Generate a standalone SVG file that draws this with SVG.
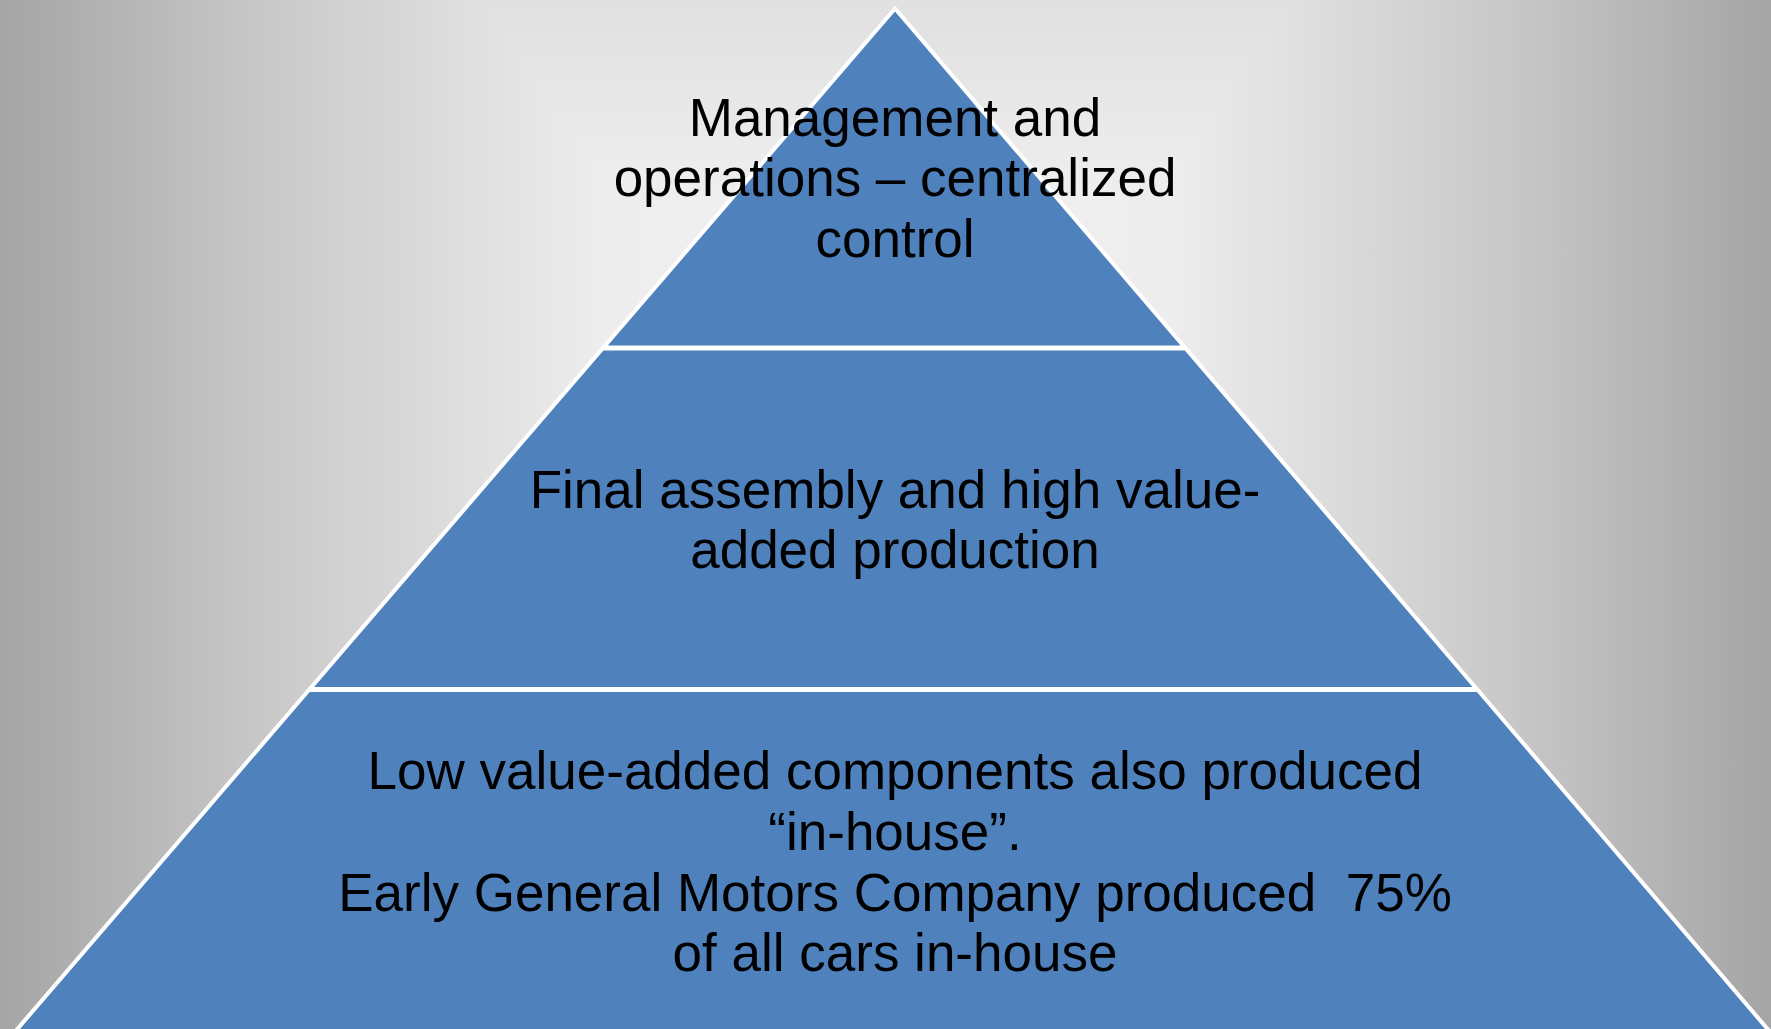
<svg xmlns="http://www.w3.org/2000/svg" width="1771" height="1029" viewBox="0 0 1771 1029">
  <style>
    .band { fill: #4f81bd; stroke: #ffffff; stroke-width: 4; stroke-linejoin: miter; }
    .lbl { font-family: "Liberation Sans", Arial, sans-serif; font-size: 53px; fill: #000000; text-anchor: middle; }
  </style>
  <defs>
    <linearGradient id="bgH" x1="0" y1="0" x2="1771" y2="0" gradientUnits="userSpaceOnUse">
      <stop offset="0" stop-color="#a5a5a5"/>
      <stop offset="0.073" stop-color="#b6b6b6"/>
      <stop offset="0.147" stop-color="#c8c8c8"/>
      <stop offset="0.25" stop-color="#dcdcdc"/>
      <stop offset="0.339" stop-color="#ededed"/>
      <stop offset="0.5" stop-color="#f2f2f2"/>
      <stop offset="0.661" stop-color="#ededed"/>
      <stop offset="0.75" stop-color="#dcdcdc"/>
      <stop offset="0.853" stop-color="#c8c8c8"/>
      <stop offset="0.927" stop-color="#b6b6b6"/>
      <stop offset="1" stop-color="#a5a5a5"/>
    </linearGradient>
    <linearGradient id="bgV" x1="0" y1="0" x2="0" y2="1029" gradientUnits="userSpaceOnUse">
      <stop offset="0" stop-color="#e0e0e0"/>
      <stop offset="0.26" stop-color="#f4f4f4"/>
      <stop offset="1" stop-color="#b0b0b0"/>
    </linearGradient>
  </defs>

  <g id="background">
    <rect x="0" y="0" width="1771" height="1029" fill="url(#bgH)"/>
    <rect x="0" y="0" width="1771" height="1029" fill="url(#bgV)" style="mix-blend-mode:darken"/>
  </g>

  <g id="connectors"></g>

  <g id="level-bottom">
    <polygon class="band" points="308.9,690 1477.7,690 1770.1,1032 14.8,1032"/>
    <text class="lbl" x="895" y="788.5">Low value-added components also produced</text>
    <text class="lbl" x="895" y="849.5">“in-house”.</text>
    <text class="lbl" x="895" y="910.5" xml:space="preserve">Early General Motors Company produced  75%</text>
    <text class="lbl" x="895" y="971">of all cars in-house</text>
  </g>

  <g id="level-middle">
    <polygon class="band" points="602.6,348.5 1185.7,348.5 1476.8,689 309.8,689"/>
    <text class="lbl" x="895" y="507.5">Final assembly and high value-</text>
    <text class="lbl" x="895" y="568">added production</text>
  </g>

  <g id="level-top">
    <polygon class="band" points="895,8.5 1184.8,347.5 603.5,347.5"/>
    <text class="lbl" x="895" y="135.5">Management and</text>
    <text class="lbl" x="895" y="196">operations – centralized</text>
    <text class="lbl" x="895" y="256.5">control</text>
  </g>
</svg>
